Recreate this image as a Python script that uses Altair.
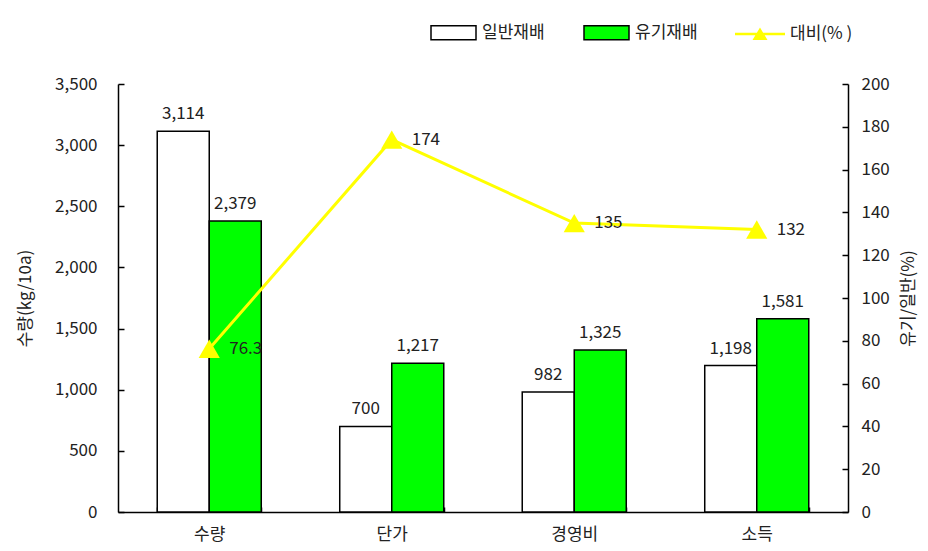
import altair as alt
import pandas as pd

categories = ["수량", "단가", "경영비", "소득"]
conventional = [3114, 700, 982, 1198]
organic = [2379, 1217, 1325, 1581]
ratio = [76.3, 174, 135, 132]
ratio_labels = ["76.3", "174", "135", "132"]
series_names = ["일반재배", "유기재배"]
line_name = "대비(% )"
left_ticks = [0, 500, 1000, 1500, 2000, 2500, 3000, 3500]
right_ticks = [0, 20, 40, 60, 80, 100, 120, 140, 160, 180, 200]

rows = []
for c, a, b in zip(categories, conventional, organic):
    rows.append({"cat": c, "series": series_names[0], "value": a})
    rows.append({"cat": c, "series": series_names[1], "value": b})
bars_df = pd.DataFrame(rows)
line_df = pd.DataFrame({"cat": categories, "ratio": ratio, "label": ratio_labels,
                        "series": [line_name] * len(categories)})

FONT = "Noto Sans CJK KR"
TXT = "#222222"

x_axis = alt.Axis(labelAngle=0, labelPadding=19, tickBand="extent",
                  tickSize=alt.ExprRef(expr="-5"), tickColor="black",
                  tickWidth=1.5, domainColor="black", domainWidth=1.5)
x_enc = alt.X("cat:N", sort=categories, title=None,
              scale=alt.Scale(paddingInner=0.43, paddingOuter=0.215), axis=x_axis)
xoff = alt.XOffset("series:N", sort=series_names,
                   scale=alt.Scale(domain=series_names, paddingInner=0, paddingOuter=0))

left_axis = alt.Axis(values=left_ticks, labelExpr="format(datum.value, ',')",
                     title="수량(kg/10a)", grid=False, tickSize=alt.ExprRef(expr="-6"),
                     tickColor="black", tickWidth=1.5, domainColor="black", domainWidth=1.5,
                     labelPadding=27, titlePadding=20)
y_left = alt.Y("value:Q", scale=alt.Scale(domain=[0, 3500]), axis=left_axis)

right_axis = alt.Axis(orient="right", values=right_ticks, title="유기/일반(%)",
                      titleAngle=270, grid=False, tickSize=alt.ExprRef(expr="-6"),
                      tickColor="black", tickWidth=1.5, domainColor="black",
                      domainWidth=1.5, labelPadding=19, titlePadding=28)
y_right = alt.Y("ratio:Q", scale=alt.Scale(domain=[0, 200]), axis=right_axis)

bars = alt.Chart(bars_df).mark_bar(stroke="black", strokeWidth=1.5).encode(
    x=x_enc,
    xOffset=xoff,
    y=y_left,
    color=alt.Color("series:N", sort=series_names,
                    scale=alt.Scale(domain=series_names, range=["#FFFFFF", "#00FF00"]),
                    legend=alt.Legend(orient="none", legendX=312, legendY=-75,
                                      direction="horizontal", title=None,
                                      symbolType="M-1,-0.31H1V0.31H-1Z", symbolSize=2025,
                                      symbolStrokeColor="black", symbolStrokeWidth=1.5,
                                      symbolOpacity=1, labelOffset=5, columnPadding=36)),
)

bar_text = alt.Chart(bars_df).mark_text(dy=-17, fontSize=17, font=FONT, color=TXT).encode(
    x=x_enc,
    xOffset=xoff,
    y=y_left,
    text=alt.Text("value:Q", format=","),
)

left = alt.layer(bars, bar_text)

line = alt.Chart(line_df).mark_line(color="#FFFF00", strokeWidth=3).encode(
    x=x_enc,
    y=y_right,
)

points = alt.Chart(line_df).mark_point(shape="triangle-up", filled=True, size=450, opacity=1).encode(
    x=x_enc,
    y=y_right,
    color=alt.Color("series:N", scale=alt.Scale(domain=[line_name], range=["#FFFF00"]),
                    legend=alt.Legend(orient="none", legendX=617, legendY=-75, title=None,
                                      symbolType="M-1,-0.05H1V0.05H-1Z M-0.3,0.24L0,-0.26L0.3,0.24Z",
                                      symbolSize=2500, symbolOpacity=1, labelOffset=5,
                                      symbolStrokeWidth=0)),
)

line_text = alt.Chart(line_df).mark_text(align="left", baseline="middle", dx=20, fontSize=17,
                                          font=FONT, color=TXT).encode(
    x=x_enc,
    y=y_right,
    text="label:N",
)

right = alt.layer(line, points, line_text)

chart = alt.layer(left, right).resolve_scale(
    y="independent", color="independent"
).properties(
    width=730, height=428,
    autosize=alt.AutoSizeParams(type="none"),
    padding={"left": 110, "top": 76, "right": 72, "bottom": 31},
).configure_view(stroke=None).configure_axis(
    labelFont=FONT, labelFontSize=17, labelColor=TXT,
    titleFont=FONT, titleFontSize=17, titleColor=TXT, titleFontWeight="normal",
).configure_legend(
    labelFont=FONT, labelFontSize=17, labelColor=TXT,
)

chart.save("out.html", embed_options={"renderer": "svg", "actions": False})
